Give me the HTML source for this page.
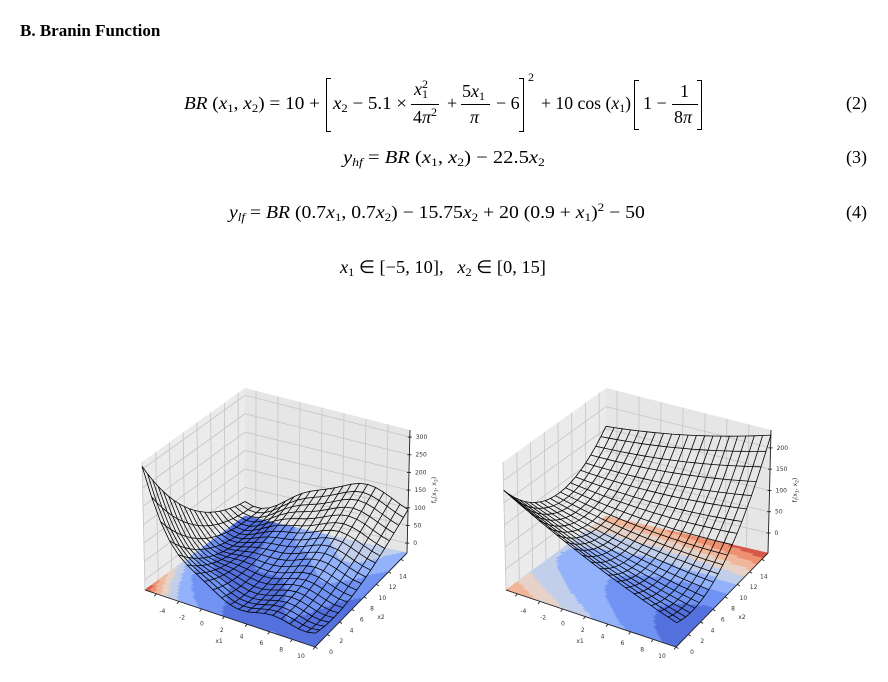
<!DOCTYPE html>
<html><head><meta charset="utf-8">
<style>
html,body{margin:0;padding:0;background:#fff;}
#page{position:relative;width:888px;height:682px;overflow:hidden;font-family:"Liberation Serif",serif;color:#000;}
.t{position:absolute;font-size:18px;line-height:18px;white-space:nowrap;transform-origin:0 50%;}
.s{font-size:12px;position:relative;top:3px;}
.p{font-size:12px;position:relative;top:-7px;}
.br{position:absolute;border:1.3px solid #000;width:4px;}
.bl{border-right:none;}
.bR{border-left:none;}
.fl{position:absolute;height:0;border-top:1px solid #000;}
svg{position:absolute;left:0;top:0;}
</style></head>
<body>
<div id="page">
<div class="t" style="left:20px;top:22px;font-size:17px;font-weight:bold;">B. Branin Function</div>

<div>
<div class="t fit" data-w="136" style="left:184px;top:94px;"><i>BR</i> (<i>x</i><span class="s">1</span>, <i>x</i><span class="s">2</span>) = 10 +</div>
<div class="br bl" style="left:326px;top:78px;height:52px;"></div>
<div class="t fit" data-w="74" style="left:333px;top:94px;"><i>x</i><span class="s">2</span> − 5.1 ×</div>
<div class="t" style="left:414px;top:80px;"><i>x</i><span class="p" style="position:absolute;left:8px;top:-5px;">2</span><span class="s">1</span></div>
<div class="fl" style="left:411px;top:104px;width:28px;"></div>
<div class="t" style="left:413px;top:108px;">4<i>π</i><span class="p">2</span></div>
<div class="t" style="left:447px;top:94px;">+</div>
<div class="t" style="left:462px;top:82px;">5<i>x</i><span class="s">1</span></div>
<div class="fl" style="left:461px;top:104px;width:29px;"></div>
<div class="t" style="left:470px;top:108px;"><i>π</i></div>
<div class="t" style="left:496px;top:94px;">− 6</div>
<div class="br bR" style="left:519px;top:78px;height:52px;"></div>
<div class="t" style="left:528px;top:68px;font-size:12px;">2</div>
<div class="t fit" data-w="90" style="left:541px;top:94px;">+ 10 cos (<i>x</i><span class="s">1</span>)</div>
<div class="br bl" style="left:634px;top:80px;height:48px;"></div>
<div class="t" style="left:643px;top:94px;">1 −</div>
<div class="t" style="left:680px;top:82px;">1</div>
<div class="fl" style="left:672px;top:104px;width:26px;"></div>
<div class="t" style="left:674px;top:108px;">8<i>π</i></div>
<div class="br bR" style="left:697px;top:80px;height:48px;"></div>
<div class="t" style="left:846px;top:94px;">(2)</div>
</div>

<div>
<div class="t fit" data-w="202" style="left:343px;top:148px;"><i>y</i><span class="s"><i>hf</i></span> = <i>BR</i> (<i>x</i><span class="s">1</span>, <i>x</i><span class="s">2</span>) − 22.5<i>x</i><span class="s">2</span></div>
<div class="t" style="left:846px;top:148px;">(3)</div>
</div>
<div>
<div class="t fit" data-w="416" style="left:229px;top:203px;"><i>y</i><span class="s"><i>lf</i></span> = <i>BR</i> (0.7<i>x</i><span class="s">1</span>, 0.7<i>x</i><span class="s">2</span>) − 15.75<i>x</i><span class="s">2</span> + 20 (0.9 + <i>x</i><span class="s">1</span>)<span class="p">2</span> − 50</div>
<div class="t" style="left:846px;top:203px;">(4)</div>
</div>
<div>
<div class="t fit" data-w="206" style="left:340px;top:258px;"><i>x</i><span class="s">1</span> ∈ [−5, 10], &nbsp; <i>x</i><span class="s">2</span> ∈ [0, 15]</div>
</div>

<svg id="chart" width="888" height="682"></svg>
</div>

<script>
document.querySelectorAll('.fit').forEach(el=>{
  const w=el.getBoundingClientRect().width;
  const target=+el.getAttribute('data-w');
  if(w>0) el.style.transform='scaleX('+(target/w).toFixed(3)+')';
});

const x1Ticks = [-4,-2,0,2,4,6,8,10];
const x2Ticks = [0,2,4,6,8,10,12,14];
const zTicksLeft = [0,50,100,150,200,250,300];
const zTicksRight = [0,50,100,150,200];
const zRangeLeft = [-28,320];
const zRangeRight = [-47,242];
const floorLevelsLeft = [-60,-20,20,60,100,140,180,220,260,300,340];
const floorLevelsRight = [-40,-10,20,50,80,110,140,170,200,230,260];
const wireN = 20;
const floorN = 60;

function branin(a,b){
  const t = b - 5.1*a*a/(4*Math.PI*Math.PI) + 5*a/Math.PI - 6;
  return t*t + 10*(1-1/(8*Math.PI))*Math.cos(a) + 10;
}
function highFid(a,b){ return branin(a,b)*(1-0.35*b/15); }
function lowFid(a,b){
  const m = 8 - (a+5)*5.39/15;
  const g = 82 - 5.48*(a+5);
  return 1.5*(b-m)*(b-m) + g;
}

const NS='http://www.w3.org/2000/svg';
const svg=document.getElementById('chart');
function mk(tag,attrs,parent){
  const e=document.createElementNS(NS,tag);
  for(const k in attrs) e.setAttribute(k,attrs[k]);
  (parent||svg).appendChild(e);
  return e;
}
const cw=[[0,59,76,192],[0.125,87,118,225],[0.25,120,155,248],[0.375,160,189,252],[0.5,221,221,221],[0.625,242,196,170],[0.75,242,158,122],[0.875,218,100,80],[1,180,4,38]];
function coolwarm(v){
  v=Math.max(0,Math.min(1,v));
  for(let i=0;i<cw.length-1;i++){
    if(v<=cw[i+1][0]){
      const f=(v-cw[i][0])/(cw[i+1][0]-cw[i][0]);
      const c=[1,2,3].map(j=>Math.round(cw[i][j]+(cw[i+1][j]-cw[i][j])*f));
      return 'rgb('+c.join(',')+')';
    }
  }
  return 'rgb(180,4,38)';
}

function makePlot(cfg){
  const ox=cfg.ox;
  const bot={L:[145,590],F:[315,647],R:[407,553],B:[245,516]};
  const top={L:[142,462],F:[318,524],R:[410,430],B:[245,388]};
  const [zlo,zhi]=cfg.zr;
  function P(x1,x2,z){
    const s=(x1+5)/15,t=x2/15,w=(z-zlo)/(zhi-zlo);
    const q=(o)=>[0,1].map(k=>o.L[k]*(1-s)*(1-t)+o.F[k]*s*(1-t)+o.R[k]*s*t+o.B[k]*(1-s)*t);
    const a=q(bot),b=q(top);
    return [ox+a[0]*(1-w)+b[0]*w, a[1]*(1-w)+b[1]*w];
  }
  const g=mk('g',{});
  
  
  const pts=a=>a.map(p=>p[0].toFixed(1)+','+p[1].toFixed(1)).join(' ');
  const wallL=mk('polygon',{points:pts([P(-5,0,zlo),P(-5,15,zlo),P(-5,15,zhi),P(-5,0,zhi)]),fill:'#ebebeb'},g);
  
  
  const wallB=mk('polygon',{points:pts([P(-5,15,zlo),P(10,15,zlo),P(10,15,zhi),P(-5,15,zhi)]),fill:'#e6e6e6'},g);
  
  
  const flr=mk('polygon',{points:pts([P(-5,0,zlo),P(10,0,zlo),P(10,15,zlo),P(-5,15,zlo)]),fill:'#f0f0f0'},g);
  
  
  const gg=mk('g',{stroke:'#c4c4c4','stroke-width':0.8,fill:'none'},g);
  
  
  const ln=(a,b,par,st)=>mk('line',Object.assign({x1:a[0],y1:a[1],x2:b[0],y2:b[1]},st||{}),par);
  x2Ticks.forEach(v=>{ln(P(-5,v,zlo),P(-5,v,zhi),gg);ln(P(-5,v,zlo),P(10,v,zlo),gg);});
  x1Ticks.forEach(v=>{ln(P(v,15,zlo),P(v,15,zhi),gg);ln(P(v,0,zlo),P(v,15,zlo),gg);});
  cfg.zt.forEach(v=>{ln(P(-5,0,v),P(-5,15,v),gg);ln(P(-5,15,v),P(10,15,v),gg);});
  const fg=mk('g',{},g);
  
  
  const lv=cfg.levels, nl=lv.length-1;
  for(let i=0;i<floorN;i++)for(let j=0;j<floorN;j++){
    const a=-5+15*i/floorN,b=15*j/floorN,d=15/floorN;
    const v=cfg.f(a+d/2,b+d/2);
    let k=0; while(k<nl-1&&v>lv[k+1])k++;
    const col=coolwarm(k/(nl-1));
    mk('polygon',{points:pts([P(a,b,zlo),P(a+d,b,zlo),P(a+d,b+d,zlo),P(a,b+d,zlo)]),fill:col,stroke:col,'stroke-width':0.6},fg);
  }
  const ag=mk('g',{stroke:'#222','stroke-width':0.9,fill:'none'},g);
  
  
  ln(P(-5,0,zlo),P(10,0,zlo),ag);
  ln(P(10,0,zlo),P(10,15,zlo),ag);
  ln(P(10,15,zlo),P(10,15,zhi),ag);
  const tg=mk('g',{'font-family':'DejaVu Sans, sans-serif','font-size':6,fill:'#333'},g);
  
  
  x1Ticks.forEach(v=>{
    const p=P(v,0,zlo),f=(v+4)/14;
    ln(p,[p[0]-2,p[1]+2.5],ag);
    const t=mk('text',{x:p[0]+6-20*f,y:p[1]+19-8*f,'text-anchor':'middle'},tg);t.textContent=v;
  });
  x2Ticks.forEach(v=>{
    const p=P(10,v,zlo),f=v/14;
    ln(p,[p[0]+2.5,p[1]+1.5],ag);
    const t=mk('text',{x:p[0]+16-14*f,y:p[1]+7+12*f,'text-anchor':'middle'},tg);t.textContent=v;
  });
  cfg.zt.forEach(v=>{
    const p=P(10,15,v);
    ln([p[0]-2,p[1]],[p[0]+2,p[1]],ag);
    const t=mk('text',{x:p[0]+6,y:p[1]+2,'text-anchor':'start'},tg);t.textContent=v;
  });
  const lx=mk('text',{x:219+ox,y:643,'text-anchor':'middle'},tg);lx.textContent='x1';
  
  
  const ly=mk('text',{x:381+ox,y:619,'text-anchor':'middle'},tg);ly.textContent='x2';
  
  
  const lz=mk('text',{x:0,y:0,'text-anchor':'middle',transform:'translate('+(436+ox)+',490) rotate(-90)'},tg);
  lz.innerHTML=cfg.zlabel;
  
  
  const wg=mk('g',{stroke:'#000','stroke-width':0.8,fill:'none','stroke-linejoin':'round'},g);
  
  
  for(let i=0;i<=wireN;i++){
    const r=[],c=[];
    for(let j=0;j<=wireN;j++){
      const a=-5+15*i/wireN,b=15*j/wireN;
      r.push(P(a,b,cfg.f(a,b)));
      const a2=-5+15*j/wireN,b2=15*i/wireN;
      c.push(P(a2,b2,cfg.f(a2,b2)));
    }
    mk('polyline',{points:pts(r)},wg);
    mk('polyline',{points:pts(c)},wg);
  }
}
makePlot({ox:0,zr:zRangeLeft,zt:zTicksLeft,f:highFid,levels:floorLevelsLeft,name:'high-fidelity-plot',
  zlabel:'f<tspan font-size="4.5" dy="1.5">h</tspan><tspan dy="-1.5">(x</tspan><tspan font-size="4.5" dy="1.5">1</tspan><tspan dy="-1.5">, x</tspan><tspan font-size="4.5" dy="1.5">2</tspan><tspan dy="-1.5">)</tspan>'});
makePlot({ox:361,zr:zRangeRight,zt:zTicksRight,f:lowFid,levels:floorLevelsRight,name:'low-fidelity-plot',
  zlabel:'f<tspan font-size="4.5" dy="1.5">l</tspan><tspan dy="-1.5">(x</tspan><tspan font-size="4.5" dy="1.5">1</tspan><tspan dy="-1.5">, x</tspan><tspan font-size="4.5" dy="1.5">2</tspan><tspan dy="-1.5">)</tspan>'});
</script>
</body></html>
